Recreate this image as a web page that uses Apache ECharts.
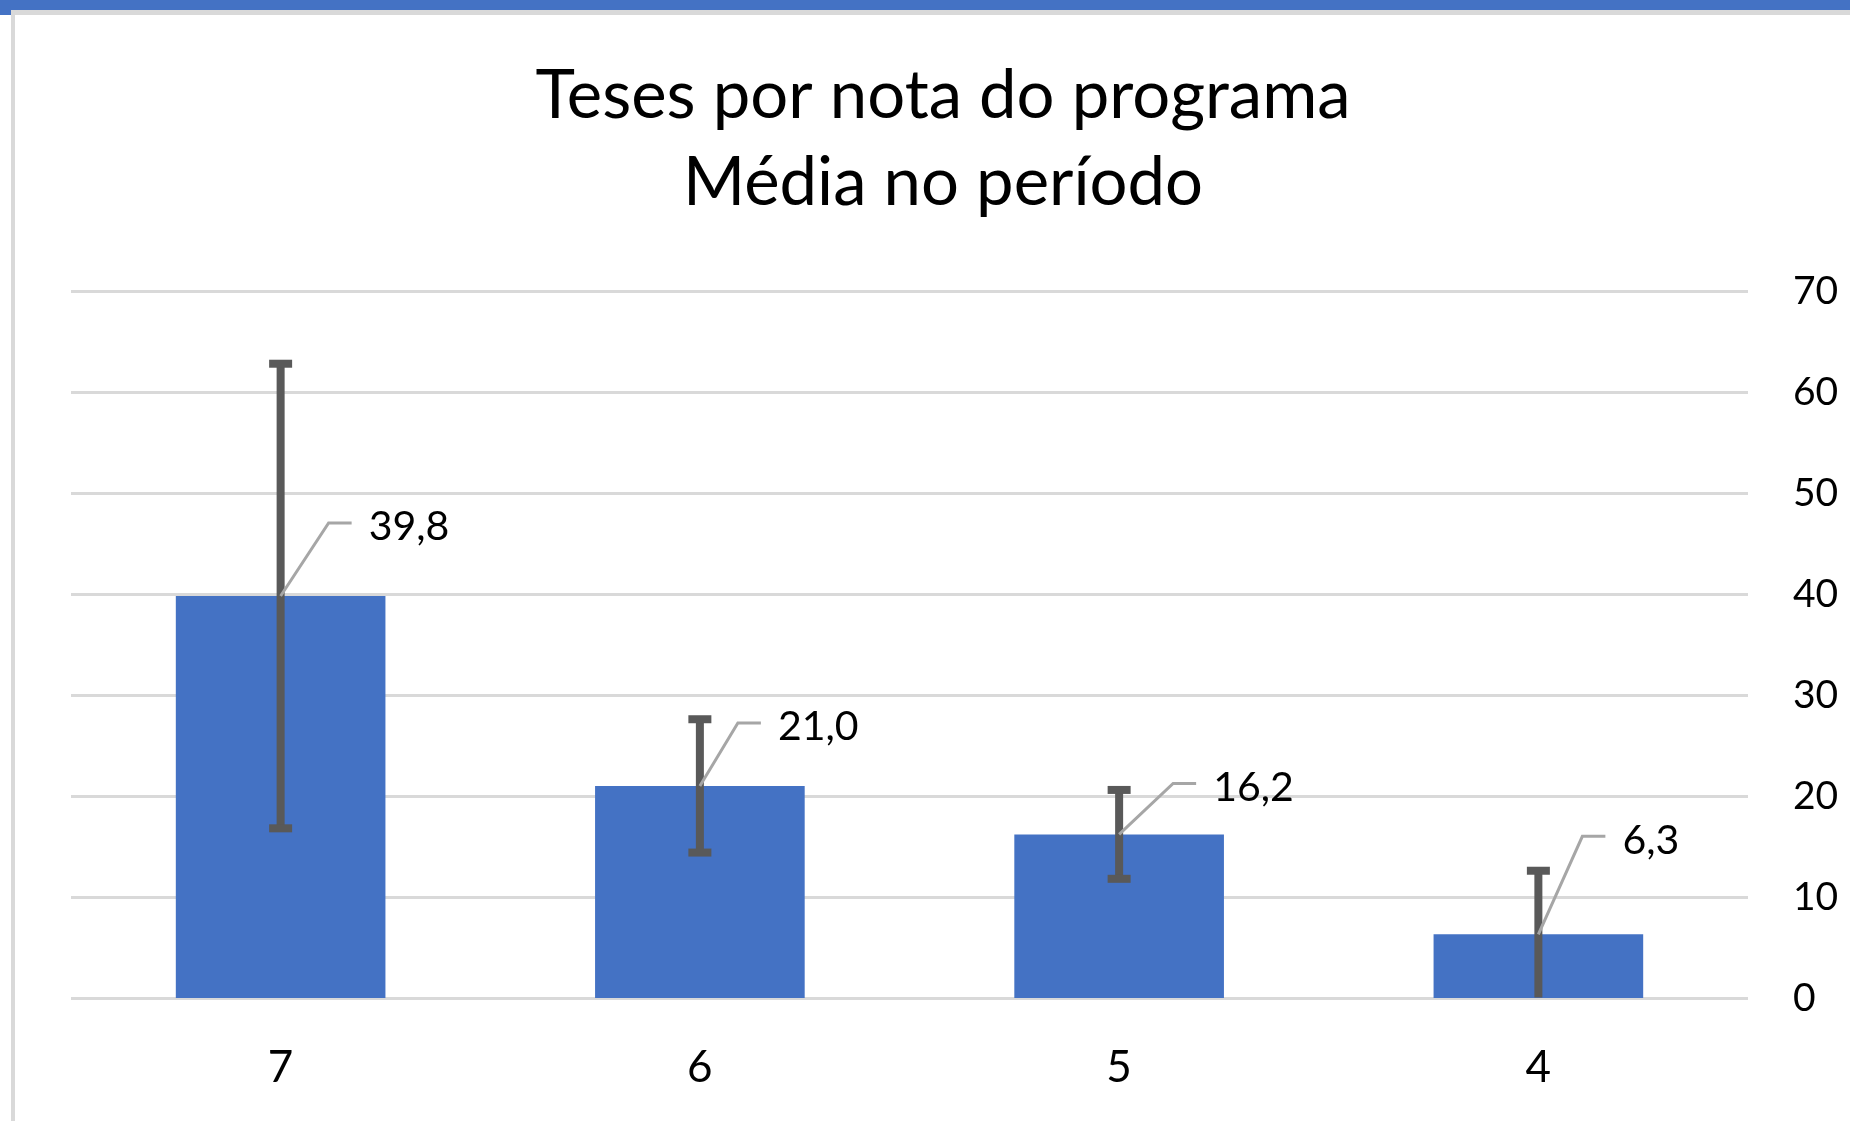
<!DOCTYPE html>
<html>
<head>
<meta charset="utf-8">
<script src="https://cdn.jsdelivr.net/npm/echarts@6/dist/echarts.min.js"></script>
<style>
html,body{margin:0;padding:0;background:#fff;}
#chart{width:1850px;height:1121px;}
</style>
</head>
<body>
<div id="chart"></div>
<script>
// ---- data ----
var categories = ['7', '6', '5', '4'];
var meanValues = [39.8, 21.0, 16.2, 6.3];
var errorValues = [23.0, 6.6, 4.4, 6.3];
var yTicks = [0, 10, 20, 30, 40, 50, 60, 70];
var titleLines = ['Teses por nota do programa', 'Média no período'];

// ---- layout (label placement relative to bar top, in px) ----
var labelNudge = [[88, -69], [78, -59], [94, -47], [84, -94]];

var FONT = 'Lato';
var chart = echarts.init(document.getElementById('chart'));

function fmt(v) { return v.toFixed(1).replace('.', ','); }

var errData = categories.map(function (c, i) {
  var lo = meanValues[i] - errorValues[i];
  var hi = meanValues[i] + errorValues[i];
  return [i, Math.max(0.05, lo), hi, lo > 0 ? 1 : 0];
});
var labData = categories.map(function (c, i) { return [i, meanValues[i]]; });

var option = {
  backgroundColor: '#ffffff',
  animation: false,
  title: {
    text: titleLines.join('\n'),
    left: 938,
    top: 48,
    textAlign: 'center',
    textStyle: { fontFamily: FONT, fontSize: 67, fontWeight: 'normal', color: '#000', lineHeight: 87 }
  },
  graphic: [
    { type: 'rect', z: -10, silent: true, shape: { x: 0, y: 0, width: 1850, height: 15 }, style: { fill: '#4472c4' } },
    { type: 'rect', z: -9, silent: true, shape: { x: 11, y: 10, width: 1839, height: 1111 }, style: { fill: '#d9d9d9' } },
    { type: 'rect', z: -8, silent: true, shape: { x: 15, y: 15, width: 1835, height: 1106 }, style: { fill: '#ffffff' } }
  ],
  grid: { left: 71, right: 102, top: 291, bottom: 123, containLabel: false },
  xAxis: {
    type: 'category',
    data: categories,
    axisLine: { show: false },
    axisTick: { show: false },
    axisLabel: { margin: 48, fontFamily: FONT, fontSize: 44, color: '#000' }
  },
  yAxis: {
    type: 'value',
    position: 'right',
    min: yTicks[0],
    max: yTicks[yTicks.length - 1],
    interval: yTicks[1] - yTicks[0],
    axisLine: { show: false },
    axisTick: { show: false },
    axisLabel: { margin: 45, align: 'left', fontFamily: FONT, fontSize: 39, color: '#000' },
    splitLine: { show: true, lineStyle: { color: '#d9d9d9', width: 3 } }
  },
  series: [
    {
      type: 'bar',
      data: meanValues,
      barCategoryGap: '50%',
      itemStyle: { color: '#4472c4' },
      z: 2
    },
    {
      type: 'custom',
      z: 3,
      data: errData,
      renderItem: function (params, api) {
        var idx = api.value(0);
        var lo = api.coord([idx, api.value(1)]);
        var hi = api.coord([idx, api.value(2)]);
        var cap = 23 / 2;
        var st = { stroke: '#595959', lineWidth: 8 };
        var children = [
          { type: 'line', shape: { x1: hi[0], y1: hi[1], x2: lo[0], y2: lo[1] }, style: st },
          { type: 'line', shape: { x1: hi[0] - cap, y1: hi[1], x2: hi[0] + cap, y2: hi[1] }, style: st }
        ];
        if (api.value(3) > 0) {
          children.push({ type: 'line', shape: { x1: lo[0] - cap, y1: lo[1], x2: lo[0] + cap, y2: lo[1] }, style: st });
        }
        return { type: 'group', children: children };
      }
    },
    {
      type: 'custom',
      z: 4,
      data: labData,
      renderItem: function (params, api) {
        var i = params.dataIndex;
        var idx = api.value(0);
        var v = api.value(1);
        var p = api.coord([idx, v]);
        var n = labelNudge[i];
        var tx = p[0] + n[0];
        var ty = p[1] + n[1];
        var ly = ty - 4;
        var ex = tx - 17;
        var bx = ex - 23;
        return {
          type: 'group',
          children: [
            { type: 'polyline', shape: { points: [[p[0], p[1]], [bx, ly], [ex, ly]] },
              style: { stroke: '#a6a6a6', lineWidth: 3, fill: null } },
            { type: 'text', style: { x: tx, y: ty, text: fmt(v), fill: '#000',
              font: '41px ' + FONT, textAlign: 'left', textVerticalAlign: 'middle', verticalAlign: 'middle' } }
          ]
        };
      }
    }
  ]
};
chart.setOption(option);
</script>
</body>
</html>
